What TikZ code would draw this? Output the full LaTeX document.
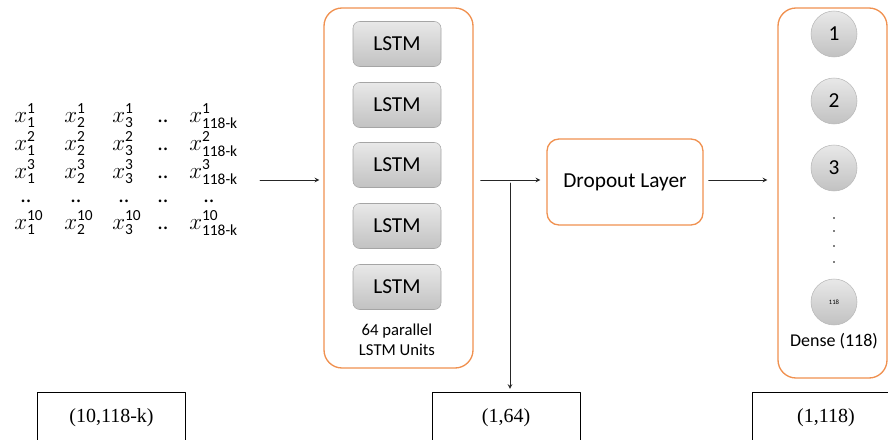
\documentclass[tikz,border=0pt]{standalone}
\usepackage{amsmath}
\usepackage{fontspec}
\setmainfont{Carlito}
\newfontfamily\timesfont{Liberation Serif}
\definecolor{layerorange}{RGB}{240,145,80}
\definecolor{cellgray}{RGB}{165,165,165}
\begin{document}
\begin{tikzpicture}[line join=round, line cap=round,>=stealth,x=0.75pt,y=-0.75pt]
	\tikzset{layer/.style={draw=layerorange,line width=1pt,rounded corners=13.5pt,fill=white},
		cell/.style={draw=cellgray,rounded corners=5pt,top color=gray!18,bottom color=gray!48,minimum width=66pt,minimum height=33.75pt,font=\fontsize{16}{18}\selectfont},
		unit/.style={circle,draw=gray!55,top color=gray!18,bottom color=gray!48,minimum size=34.5pt,inner sep=0pt,font=\fontsize{16}{18}\selectfont},
		entry/.style={anchor=base west,inner sep=0pt,font=\fontsize{16.5}{18}\selectfont},
		shapebox/.style={draw,line width=0.6pt,minimum width=111pt,minimum height=39pt,font=\timesfont\fontsize{15}{17}\selectfont},
		conn/.style={->,line width=0.6pt,black!85}}
	\useasboundingbox (0,0) rectangle (888,439);
	\clip (0,0) rectangle (888,439);
	\foreach \r/\s/\yy in {1/1/122,2/2/150,3/3/178,4/10/229}{
		\foreach \c/\xx in {1/14,2/64,3/112}
			\node[entry] (x\r\c) at (\xx,\yy) {$x^{\text{\s}}_{\text{\c}}$};
		\node[entry] (x\r4) at (157,\yy) {..};
		\node[entry] (x\r5) at (189,\yy) {$x^{\text{\s}}_{\text{118-k}}$};
	}
	\foreach \c/\xx in {1/20,2/70,3/118,4/157,5/203}
		\node[entry] (d\c) at (\xx,202) {..};
	\node[layer,minimum width=111.75pt,minimum height=270pt] (lstmlayer) at (398.5,188) {};
	\foreach \i/\yy in {1/44,2/105,3/165,4/226,5/287}
		\node[cell] (lstm\i) at (397,\yy) {LSTM};
	\node[align=center,font=\fontsize{12.5}{15}\selectfont] (lstmnote) at (397,340) {64 parallel\\LSTM Units};
	\node[layer,minimum width=117pt,minimum height=64.5pt,rounded corners=9pt,font=\fontsize{16}{18}\selectfont] (dropout) at (625,182) {Dropout Layer};
	\node[layer,minimum width=81.75pt,minimum height=277.5pt] (dense) at (832.5,193) {};
	\foreach \i/\yy in {1/34,2/101,3/168}
		\node[unit] (u\i) at (834,\yy) {\i};
	\node[unit,font=\tiny] (u118) at (834,302) {118};
	\foreach \yy in {218,231,246,262}
		\fill (834,\yy) circle (0.6pt);
	\node[font=\fontsize{13.5}{16}\selectfont] (denselabel) at (834,341) {Dense (118)};
	\node[shapebox] (inshape) at (111.5,418) {(10,118-k)};
	\node[shapebox] (lstmshape) at (506,418) {(1,64)};
	\node[shapebox] (denseshape) at (826,418) {(1,118)};
	\coordinate (xin) at (260,180);
	\coordinate (split) at (510,183);
	\draw[conn,shorten >=3pt] (xin) -- (lstmlayer.west |- xin);
	\draw[conn,shorten <=5.25pt,shorten >=4.5pt] (lstmlayer.east |- xin) -- (dropout.west |- xin);
	\draw[conn,shorten >=2pt] (split) -- (split |- lstmshape.north);
	\draw[conn,shorten <=3.75pt,shorten >=7.5pt] (dropout.east |- xin) -- (dense.west |- xin);
\end{tikzpicture}
\end{document}
